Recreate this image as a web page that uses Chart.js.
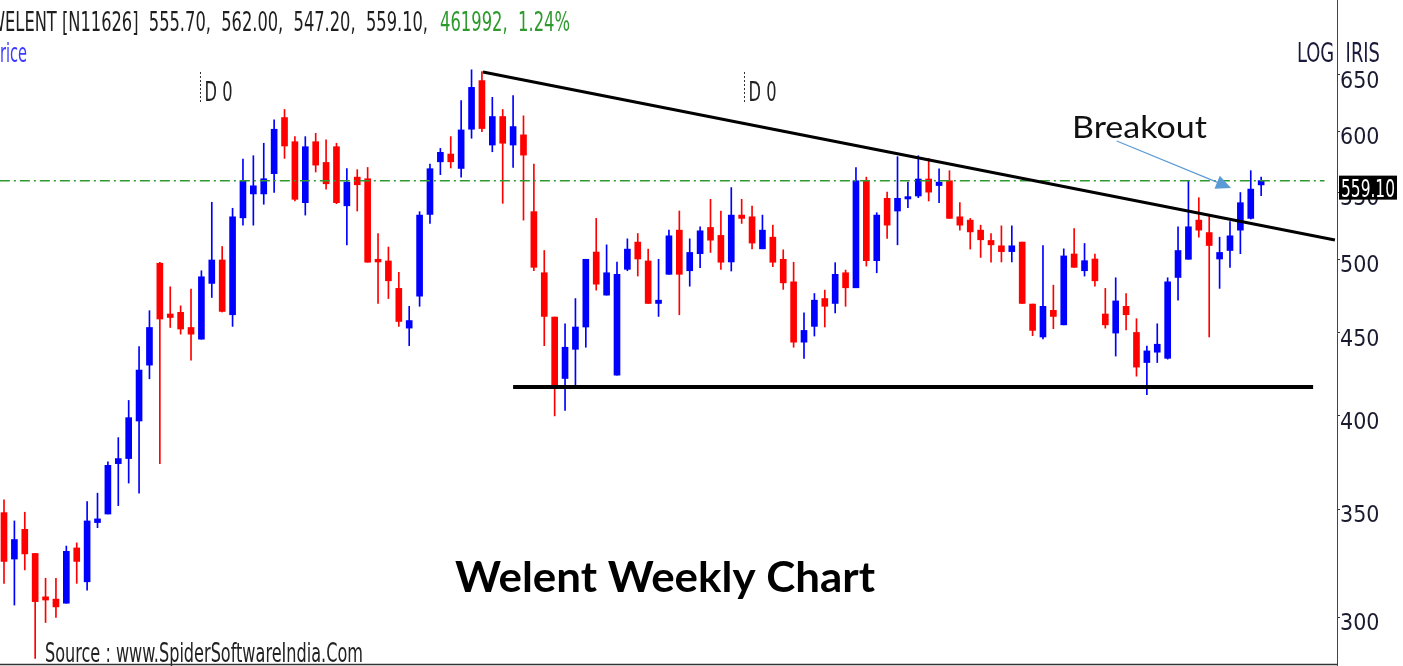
<!DOCTYPE html>
<html>
<head>
<meta charset="utf-8">
<title>Welent Weekly Chart</title>
<script src="https://cdn.jsdelivr.net/npm/chart.js@4.4.1/dist/chart.umd.min.js"></script>
<style>
  html, body { margin: 0; padding: 0; background: #fff; }
  #wrap { position: relative; width: 1403px; height: 666px; }
</style>
</head>
<body>
<div id="wrap"><canvas id="chart" width="1403" height="666"></canvas></div>
<script>
  // weekly candles, oldest first
  const opens = [
    348.3, 326.0, 340.1, 328.6, 308.9, 307.9, 306.1, 331.2, 315.6, 343.4,
    347.6, 373.5, 376.2, 396.9, 429.8, 497.0, 462.3, 463.4, 453.5, 446.0,
    482.9, 499.3, 461.8, 530.2, 548.6, 548.6, 564.7, 611.7, 591.0, 541.8,
    591.0, 573.8, 586.8, 539.4, 561.9, 560.6, 499.8, 498.6, 479.5, 453.1,
    474.2, 532.8, 574.3, 580.7, 568.9, 601.6, 644.8, 588.2, 612.6, 588.2,
    596.8, 534.9, 490.3, 460.3, 421.7, 439.6, 453.8, 505.0, 474.9, 423.7,
    492.7, 512.2, 498.6, 469.3, 489.2, 521.0, 491.7, 503.8, 523.0, 517.1,
    497.9, 532.3, 531.0, 507.3, 515.8, 499.8, 484.0, 444.1, 454.2, 472.6,
    469.3, 490.3, 479.9, 559.2, 498.8, 545.2, 535.4, 544.7, 547.0, 560.4,
    555.2, 559.0, 531.0, 528.5, 521.0, 513.4, 509.5, 505.3, 512.2, 468.9,
    447.4, 464.7, 455.2, 503.6, 491.7, 500.0, 462.3, 449.9, 467.4, 450.3,
    431.4, 437.8, 434.0, 487.0, 499.8, 528.5, 519.2, 500.0, 506.1, 521.0,
    529.8, 555.7
  ];
  const highs = [
    354.7, 344.2, 348.5, 328.6, 317.2, 317.2, 332.1, 333.6, 353.8, 358.1,
    374.4, 387.6, 408.7, 441.3, 464.5, 497.7, 480.6, 467.7, 479.0, 491.7,
    542.1, 509.0, 537.5, 576.5, 579.3, 589.7, 609.7, 618.8, 595.3, 595.3,
    598.1, 592.5, 589.7, 568.7, 567.9, 569.7, 518.5, 508.6, 490.6, 467.4,
    534.9, 572.4, 585.4, 595.3, 626.6, 654.8, 653.2, 629.6, 618.8, 631.1,
    613.2, 572.4, 506.1, 460.3, 455.9, 472.6, 499.8, 529.8, 510.2, 497.9,
    514.6, 518.5, 507.1, 499.8, 521.0, 535.4, 514.6, 523.5, 544.4, 535.4,
    553.6, 544.4, 539.2, 532.3, 524.7, 506.6, 497.7, 463.0, 476.0, 478.3,
    497.4, 492.2, 569.7, 561.9, 534.1, 550.0, 578.5, 557.9, 579.3, 577.1,
    568.5, 567.1, 541.8, 529.8, 524.7, 518.5, 524.2, 524.2, 512.2, 468.9,
    509.7, 481.7, 507.3, 522.2, 511.2, 503.6, 479.5, 486.8, 476.0, 459.2,
    441.7, 455.9, 486.8, 523.5, 559.2, 545.7, 531.2, 515.8, 527.4, 549.7,
    567.1, 562.0
  ];
  const lows = [
    314.9, 305.3, 321.0, 282.9, 297.8, 300.0, 306.1, 314.9, 311.9, 340.9,
    347.6, 351.8, 363.3, 358.1, 421.5, 373.5, 453.5, 449.2, 432.9, 446.0,
    473.3, 463.6, 454.2, 524.7, 524.7, 540.6, 549.7, 577.1, 543.1, 532.3,
    566.0, 552.4, 541.0, 510.2, 535.4, 497.7, 469.3, 472.6, 454.2, 441.9,
    467.4, 526.0, 563.9, 569.3, 561.9, 593.9, 599.6, 582.6, 541.3, 569.7,
    528.5, 491.7, 441.9, 399.8, 402.9, 416.0, 440.9, 478.3, 474.9, 423.7,
    491.7, 488.0, 469.3, 460.7, 489.2, 461.8, 481.0, 493.8, 504.7, 492.7,
    491.5, 526.0, 507.3, 507.3, 494.5, 478.8, 440.9, 434.0, 448.0, 453.8,
    463.0, 467.4, 479.9, 495.0, 490.3, 514.8, 510.2, 538.0, 545.7, 543.1,
    541.8, 529.8, 521.0, 507.1, 501.1, 497.7, 497.9, 497.9, 469.3, 448.2,
    446.2, 452.7, 455.2, 494.1, 488.0, 481.0, 453.1, 435.4, 452.0, 423.1,
    412.1, 431.4, 433.5, 471.5, 499.8, 515.8, 447.4, 479.5, 494.1, 503.8,
    529.3, 547.2
  ];
  const closes = [
    324.9, 335.2, 328.4, 306.8, 307.5, 304.5, 329.6, 324.9, 344.2, 345.2,
    372.6, 376.2, 398.8, 426.8, 453.5, 459.0, 460.0, 452.5, 449.2, 487.5,
    499.3, 464.0, 531.0, 559.0, 555.0, 560.6, 601.6, 587.4, 544.4, 586.8,
    571.6, 556.6, 541.8, 557.9, 555.8, 497.7, 497.9, 484.7, 457.4, 458.0,
    532.3, 568.7, 582.1, 574.3, 601.0, 638.6, 602.2, 612.6, 589.7, 603.9,
    579.8, 494.1, 460.7, 417.0, 440.9, 453.8, 499.8, 482.4, 490.3, 489.2,
    507.1, 500.0, 469.3, 471.5, 516.8, 489.2, 504.7, 520.5, 513.6, 497.7,
    532.3, 529.8, 511.5, 521.0, 497.7, 483.3, 444.1, 451.6, 471.5, 467.4,
    489.2, 479.9, 559.0, 498.8, 532.3, 524.7, 545.2, 546.5, 560.4, 550.0,
    557.9, 529.8, 524.7, 519.7, 513.9, 510.2, 505.3, 509.5, 469.3, 451.6,
    467.4, 460.7, 502.2, 494.1, 498.8, 484.7, 455.2, 471.0, 461.8, 428.6,
    438.6, 442.8, 484.0, 506.1, 523.5, 521.0, 509.7, 504.7, 516.8, 541.8,
    552.4, 559.1
  ];

  const yTicks = [300, 350, 400, 450, 500, 550, 600, 650];
  const lastPrice = 559.10;
  const lastVolume = "461992";
  const lastChange = "1.24%";
  const trendLine = [{ x: 46.1, y: 652.8 }, { x: 128.1, y: 513.7 }];
  const supportLine = [{ x: 49.0, y: 416.6 }, { x: 126.0, y: 416.6 }];
  const dayMarks = [18.9, 71.2];            // "D 0" markers (week index)
  const arrowFrom = { x: 107.1, y: 591.6 };   // Breakout arrow
  const arrowTo = { x: 118.1, y: 553.3 };

  const UP = "#0000ff";
  const DOWN = "#ff0000";
  const NARROW = "'Liberation Sans Narrow', 'DejaVu Sans Condensed', sans-serif";

  const colors = closes.map((c, i) => c >= opens[i] ? UP : DOWN);

  function fitText(ctx, text, x, y, width, font, color) {
    ctx.save();
    ctx.font = font;
    ctx.fillStyle = color;
    ctx.textBaseline = "alphabetic";
    ctx.textAlign = "left";
    const w = ctx.measureText(text).width;
    ctx.translate(x, y);
    ctx.scale(width / w, 1);
    ctx.fillText(text, 0, 0);
    ctx.restore();
  }

  const decorations = {
    id: "decorations",
    afterDraw(chart) {
      const ctx = chart.ctx;
      const xs = chart.scales.x, ys = chart.scales.y;
      const area = chart.chartArea;

      // header
      fitText(ctx, `WELENT [N11626]  ${opens[121].toFixed(2)},  ${highs[121].toFixed(2)},  ${lows[121].toFixed(2)},  ${closes[121].toFixed(2)},`,
        -11, 31, 439, `27px ${NARROW}`, "#1e1e1e");
      fitText(ctx, `${lastVolume},  ${lastChange}`, 440, 31, 130, `27px ${NARROW}`, "#2e9a2e");

      // "Price" cut at the left edge, only "rice" visible
      ctx.save();
      ctx.font = `27px ${NARROW}`;
      const wAll = ctx.measureText("Price").width;
      const wTail = ctx.measureText("rice").width;
      ctx.restore();
      const k = 27 / wTail;
      fitText(ctx, "Price", 27 - wAll * k, 62, wAll * k, `27px ${NARROW}`, "#3a3aff");

      fitText(ctx, "LOG  IRIS", 1297, 62, 83, `26px ${NARROW}`, "#1a1a3a");

      // D 0 markers
      dayMarks.forEach(m => {
        const px = Math.round(xs.getPixelForValue(m)) + 0.5;
        ctx.save();
        ctx.strokeStyle = "#333";
        ctx.lineWidth = 1;
        ctx.setLineDash([2, 2]);
        ctx.beginPath();
        ctx.moveTo(px, 72);
        ctx.lineTo(px, 103);
        ctx.stroke();
        ctx.restore();
        fitText(ctx, "D 0", px + 4, 101, 28, `26px ${NARROW}`, "#222");
      });

      // breakout arrow
      const ax = xs.getPixelForValue(arrowFrom.x), ay = ys.getPixelForValue(arrowFrom.y);
      const bx = xs.getPixelForValue(arrowTo.x), by = ys.getPixelForValue(arrowTo.y);
      const ang = Math.atan2(by - ay, bx - ax);
      ctx.save();
      ctx.strokeStyle = "#5b9bd5";
      ctx.fillStyle = "#5b9bd5";
      ctx.lineWidth = 1.2;
      ctx.beginPath();
      ctx.moveTo(ax, ay);
      ctx.lineTo(bx - 12 * Math.cos(ang), by - 12 * Math.sin(ang));
      ctx.stroke();
      ctx.beginPath();
      ctx.moveTo(bx, by);
      ctx.lineTo(bx - 15 * Math.cos(ang) + 7 * Math.sin(ang), by - 15 * Math.sin(ang) - 7 * Math.cos(ang));
      ctx.lineTo(bx - 15 * Math.cos(ang) - 7 * Math.sin(ang), by - 15 * Math.sin(ang) + 7 * Math.cos(ang));
      ctx.closePath();
      ctx.fill();
      ctx.restore();
      fitText(ctx, "Breakout", 1072, 138, 135, "31px Lato, 'Open Sans', sans-serif", "#111");

      // title and source
      fitText(ctx, "Welent Weekly Chart", 455, 592, 420, "bold 42px Lato, 'Open Sans', sans-serif", "#000");
      fitText(ctx, "Source : www.SpiderSoftwareIndia.Com", 45, 662, 318, `26px ${NARROW}`, "#222");

      // bottom axis line
      ctx.save();
      ctx.strokeStyle = "#333";
      ctx.lineWidth = 1.5;
      ctx.beginPath();
      ctx.moveTo(0, 664.5);
      ctx.lineTo(area.right, 664.5);
      ctx.stroke();
      ctx.restore();

      // last price tag
      const ly = ys.getPixelForValue(lastPrice) + 7;
      ctx.save();
      ctx.fillStyle = "#000";
      ctx.fillRect(area.right + 2, ly - 12, 58, 24);
      ctx.restore();
      fitText(ctx, lastPrice.toFixed(2), area.right + 4, ly + 9, 54, `25px ${NARROW}`, "#fff");
    }
  };

  new Chart(document.getElementById("chart"), {
    type: "bar",
    data: {
      datasets: [
        {
          label: "wick",
          data: opens.map((o, i) => ({ x: i, y: [lows[i], highs[i]] })),
          backgroundColor: colors,
          barThickness: 1,
          grouped: false,
          order: 3,
        },
        {
          label: "body",
          data: opens.map((o, i) => ({ x: i, y: [o, closes[i]] })),
          backgroundColor: colors,
          barThickness: 6,
          minBarLength: 2,
          grouped: false,
          order: 2,
        },
        {
          type: "line",
          label: "last",
          data: [{ x: -0.4, y: lastPrice }, { x: 127.1, y: lastPrice }],
          borderColor: "#2e9a2e",
          borderWidth: 1.5,
          borderDash: [10, 4, 2, 4],
          pointRadius: 0,
          order: 1,
        },
        {
          type: "line",
          label: "trend",
          data: trendLine,
          borderColor: "#000",
          borderWidth: 3,
          pointRadius: 0,
          order: 0,
        },
        {
          type: "line",
          label: "support",
          data: supportLine,
          borderColor: "#000",
          borderWidth: 4,
          pointRadius: 0,
          order: 0,
        },
      ],
    },
    options: {
      responsive: false,
      devicePixelRatio: 1,
      animation: false,
      layout: { padding: 0 },
      plugins: {
        legend: { display: false },
        tooltip: { enabled: false },
      },
      scales: {
        x: {
          type: "linear",
          display: false,
          offset: false,
          min: -0.385,
          max: 128.3,
        },
        y: {
          type: "logarithmic",
          position: "right",
          bounds: "data",
          min: 279.9,
          max: 723.3,
          afterBuildTicks: s => { s.ticks = yTicks.map(v => ({ value: v })); },
          afterFit: s => { s.width = 66; s.paddingTop = 0; s.paddingBottom = 0; },
          grid: { drawOnChartArea: false, drawTicks: true, tickLength: 3, color: "#333" },
          border: { color: "#444", width: 1 },
          ticks: {
            autoSkip: false,
            color: "#1b1b2f",
            padding: 0,
            labelOffset: 7,
            font: { family: NARROW, size: 23 },
            callback: v => String(v),
          },
        },
      },
    },
    plugins: [decorations],
  });
</script>
</body>
</html>
